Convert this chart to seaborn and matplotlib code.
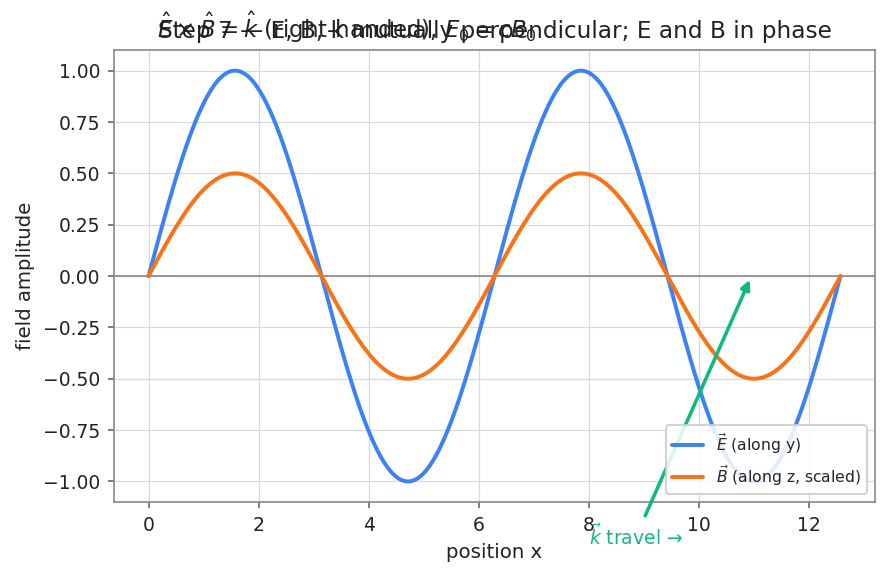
import numpy as np
import matplotlib
matplotlib.use("Agg")
import matplotlib.pyplot as plt
import seaborn as sns

# wave parameters
E0 = 1.0          # peak of E
B0_scaled = 0.5   # peak of B (scaled for display)
x_start, x_end = 0.0, 4 * np.pi
n_samples = 400

E_COLOR = "#3b82f6"
B_COLOR = "#f97316"
K_COLOR = "#10b981"

x = np.linspace(x_start, x_end, n_samples)
E_vals = E0 * np.sin(x)
B_vals = B0_scaled * np.sin(x)

sns.set_theme(style="whitegrid")
plt.rcParams["font.family"] = ["DejaVu Sans"]
plt.rcParams.update({
    "axes.edgecolor": "#888888",
    "axes.linewidth": 0.8,
    "xtick.bottom": True,
    "ytick.left": True,
    "xtick.major.size": 3,
    "ytick.major.size": 3,
    "xtick.major.width": 0.8,
    "ytick.major.width": 0.8,
    "xtick.color": "#666666",
    "ytick.color": "#666666",
    "xtick.labelcolor": "#222222",
    "ytick.labelcolor": "#222222",
    "grid.color": "#d9d9d9",
    "grid.linewidth": 0.6,
    "xtick.labelsize": 9,
    "ytick.labelsize": 9,
    "axes.labelsize": 9.5,
})

fig, ax = plt.subplots(figsize=(887 / 150, 576 / 150), dpi=150)
fig.subplots_adjust(left=0.1285, right=0.9865, top=0.913, bottom=0.1285)

sns.lineplot(x=x, y=E_vals, ax=ax, color=E_COLOR, lw=1.9, label=r"$\vec{E}$ (along y)")
sns.lineplot(x=x, y=B_vals, ax=ax, color=B_COLOR, lw=1.9, label=r"$\vec{B}$ (along z, scaled)")
ax.axhline(0, color="#888888", lw=0.8, zorder=1)

ax.set_ylim(-1.1, 1.1)
ax.set_xlabel("position x", color="#222222")
ax.set_ylabel("field amplitude", color="#222222")
ax.set_title("Step 7 — E, B, k mutually perpendicular; E and B in phase",
             fontsize=11.1, color="#222222")
ax.annotate(r"$\hat{E}\times\hat{B}=\hat{k}$ (right-handed), $E_0 = cB_0$",
            xy=(0.057, 1.0), xycoords="axes fraction", xytext=(0, 6),
            textcoords="offset points", fontsize=11, ha="left", va="baseline",
            color="#222222")

ax.annotate(r"$\vec{k}$ travel →", xy=(10.95, 0.0), xytext=(8.85, -1.27),
            color=K_COLOR, fontsize=9, ha="center", va="center",
            annotation_clip=False,
            arrowprops=dict(arrowstyle="-|>", color=K_COLOR, lw=1.7))

ax.legend(loc="lower right", fontsize=7.5, framealpha=0.85)

fig.savefig("out.png", dpi=150)
